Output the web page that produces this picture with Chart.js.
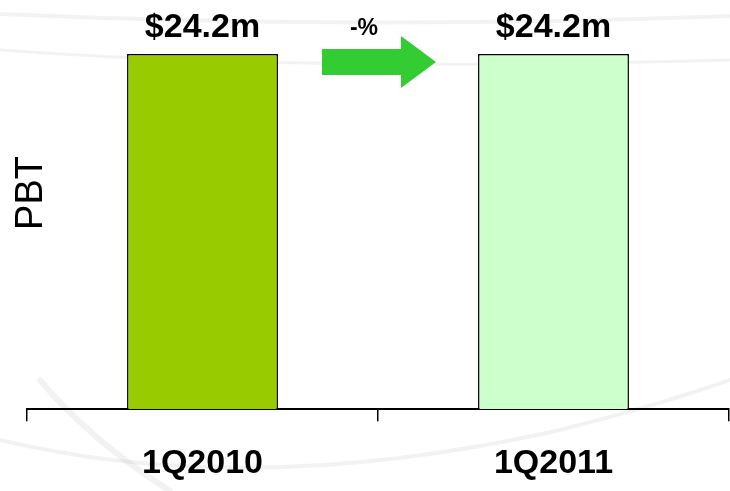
<!DOCTYPE html>
<html>
<head>
<meta charset="utf-8">
<script src="https://cdn.jsdelivr.net/npm/chart.js@4.4.1/dist/chart.umd.min.js"></script>
<style>
  html, body { margin: 0; padding: 0; background: #ffffff; }
  #wrap { width: 730px; height: 491px; }
</style>
</head>
<body>
<div id="wrap"><canvas id="pbtChart"></canvas></div>
<script>
// Profit before tax, US$ millions
const quarters = ['1Q2010', '1Q2011'];
const pbtValues = [24.2, 24.2];
const barColors = ['#99cc00', '#ccffcc'];
const changeLabel = '-%';
const axisTitle = 'PBT';

const FONT = '"Liberation Sans", Arial, sans-serif';

// faint swoosh lines behind the chart
const backdrop = {
  id: 'backdrop',
  beforeDraw(chart) {
    const c = chart.ctx;
    c.save();
    c.lineCap = 'round';
    c.strokeStyle = 'rgba(0,0,0,0.05)';
    c.lineWidth = 4;
    c.beginPath();
    c.moveTo(0, 14);
    c.quadraticCurveTo(360, 30, 730, 16);
    c.stroke();
    c.lineWidth = 3;
    c.beginPath();
    c.moveTo(0, 50);
    c.quadraticCurveTo(300, 72, 730, 60);
    c.stroke();
    c.lineWidth = 6;
    c.beginPath();
    c.moveTo(40, 380);
    c.quadraticCurveTo(90, 440, 170, 491);
    c.stroke();
    c.lineWidth = 4;
    c.beginPath();
    c.moveTo(0, 440);
    c.quadraticCurveTo(250, 500, 560, 430);
    c.quadraticCurveTo(660, 405, 730, 380);
    c.stroke();
    c.restore();
  }
};

// value labels, change arrow and the rotated axis title
const annotations = {
  id: 'annotations',
  afterDatasetsDraw(chart) {
    const c = chart.ctx;
    const meta = chart.getDatasetMeta(0);
    const ys = chart.scales.y;
    c.save();
    c.fillStyle = '#000';
    c.textAlign = 'center';
    c.textBaseline = 'alphabetic';
    c.font = 'bold 34px ' + FONT;
    meta.data.forEach((bar, i) => {
      c.fillText('$' + pbtValues[i].toFixed(1) + 'm', bar.x, bar.y - 17);
    });

    // arrow between the two bars
    const mid = (meta.data[0].x + meta.data[1].x) / 2;
    const top = ys.getPixelForValue(Math.max(...pbtValues));
    const cy = top + 8;
    c.fillStyle = '#33cc33';
    c.beginPath();
    c.moveTo(mid - 56, cy - 13);
    c.lineTo(mid + 23, cy - 13);
    c.lineTo(mid + 23, cy - 26);
    c.lineTo(mid + 58, cy);
    c.lineTo(mid + 23, cy + 26);
    c.lineTo(mid + 23, cy + 13);
    c.lineTo(mid - 56, cy + 13);
    c.closePath();
    c.fill();

    c.fillStyle = '#000';
    c.font = 'bold 23px ' + FONT;
    c.fillText(changeLabel, mid - 14, top - 19);

    // y axis title
    c.font = '38px ' + FONT;
    c.translate(32, 193);
    c.rotate(-Math.PI / 2);
    c.textBaseline = 'middle';
    c.fillText(axisTitle, 0, 0);
    c.restore();
  }
};

new Chart(document.getElementById('pbtChart').getContext('2d'), {
  type: 'bar',
  data: {
    labels: quarters,
    datasets: [{
      data: pbtValues,
      backgroundColor: barColors,
      borderColor: '#000',
      borderWidth: 1.5,
      borderSkipped: 'bottom',
      categoryPercentage: 1,
      barPercentage: 0.43
    }]
  },
  options: {
    responsive: true,
    maintainAspectRatio: false,
    animation: false,
    layout: { padding: { top: 54, left: 27, right: 1, bottom: -15 } },
    plugins: { legend: { display: false }, tooltip: { enabled: false } },
    scales: {
      x: {
        offset: true,
        border: { display: true, color: '#000', width: 2 },
        grid: {
          offset: true,
          drawOnChartArea: false,
          drawTicks: true,
          tickLength: 12,
          color: '#000',
          lineWidth: 1.5
        },
        ticks: {
          color: '#000',
          padding: 22,
          font: { family: FONT, size: 34, weight: 'bold' }
        }
      },
      y: {
        display: false,
        min: 0,
        max: 24.2
      }
    }
  },
  plugins: [backdrop, annotations]
});
</script>
</body>
</html>
